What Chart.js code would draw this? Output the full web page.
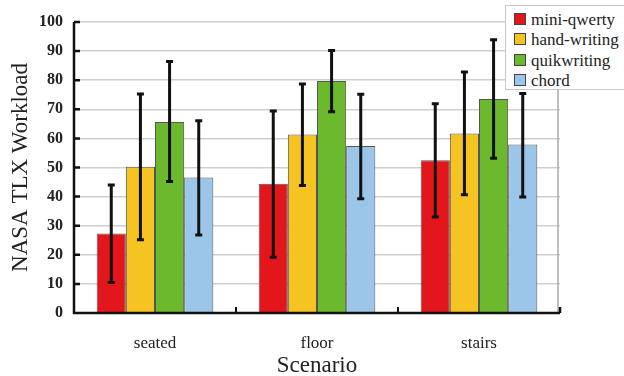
<!DOCTYPE html>
<html>
<head>
<meta charset="utf-8">
<script src="https://cdn.jsdelivr.net/npm/chart.js@4/dist/chart.umd.min.js"></script>
<style>
  html, body { margin: 0; padding: 0; background: #fff; }
  #wrap { position: relative; width: 624px; height: 376px; }
  #legend {
    position: absolute; left: 505px; top: 5px; width: 125px; height: 85px;
    border: 1px solid #c8c8c8; background: #fff; box-sizing: border-box;
    font-family: "Liberation Serif", "Times New Roman", serif; font-size: 17px; color: #222;
    padding: 4px 0 0 8px; line-height: 20.3px;
  }
  #legend .sw { display: inline-block; width: 10px; height: 10px; border: 1px solid #444; margin-right: 5px; vertical-align: 0px; }
</style>
</head>
<body>
<div id="wrap">
  <canvas id="chart" width="624" height="376"></canvas>
  <div id="legend"></div>
</div>
<script>
// Data
const scenarios = ['seated', 'floor', 'stairs'];
const methods = ['mini-qwerty', 'hand-writing', 'quikwriting', 'chord'];
const colors = ['#e3161c', '#f5c422', '#6cb92d', '#9cc6e9'];

const miniQwerty = [27.3, 44.4, 52.5];
const handWriting = [50.3, 61.3, 61.7];
const quikwriting = [65.6, 79.7, 73.5];
const chord = [46.6, 57.4, 57.9];

// error bar low / high
const miniQwertyErr = [[10.5, 44.0], [19.2, 69.4], [33.0, 71.9]];
const handWritingErr = [[25.2, 75.3], [43.8, 78.7], [40.6, 82.8]];
const quikwritingErr = [[45.2, 86.4], [69.2, 90.2], [53.2, 93.9]];
const chordErr = [[26.8, 66.1], [39.3, 75.2], [39.9, 75.4]];

const yTicks = [0, 10, 20, 30, 40, 50, 60, 70, 80, 90, 100];

const seriesValues = [miniQwerty, handWriting, quikwriting, chord];
const seriesErrors = [miniQwertyErr, handWritingErr, quikwritingErr, chordErr];

const serif = '"Liberation Serif", "Times New Roman", serif';

// Legend
const legendEl = document.getElementById('legend');
methods.forEach((m, i) => {
    const row = document.createElement('div');
    row.innerHTML = '<span class="sw" style="background:' + colors[i] + '"></span>' + m;
    legendEl.appendChild(row);
});

// Error bars + small decorations
const errorBarPlugin = {
    id: 'errorBars',
    afterDatasetsDraw(chart) {
        const ctx = chart.ctx;
        const y = chart.scales.y;
        const x = chart.scales.x;
        const area = chart.chartArea;
        ctx.save();
        ctx.strokeStyle = '#111';
        ctx.lineWidth = 3;
        chart.data.datasets.forEach((ds, i) => {
            const meta = chart.getDatasetMeta(i);
            meta.data.forEach((bar, j) => {
                const err = seriesErrors[i][j];
                const yl = y.getPixelForValue(err[0]);
                const yh = y.getPixelForValue(err[1]);
                ctx.beginPath();
                ctx.moveTo(bar.x, yl); ctx.lineTo(bar.x, yh);
                ctx.moveTo(bar.x - 3.5, yl); ctx.lineTo(bar.x + 3.5, yl);
                ctx.moveTo(bar.x - 3.5, yh); ctx.lineTo(bar.x + 3.5, yh);
                ctx.stroke();
            });
        });
        // category separator ticks
        ctx.lineWidth = 2;
        for (let k = 1; k < scenarios.length; k++) {
            const px = (x.getPixelForValue(k - 1) + x.getPixelForValue(k)) / 2;
            ctx.beginPath();
            ctx.moveTo(px, area.bottom); ctx.lineTo(px, area.bottom - 6);
            ctx.stroke();
        }
        // right border
        ctx.strokeStyle = '#aaa';
        ctx.lineWidth = 1.5;
        ctx.beginPath();
        ctx.moveTo(area.right - 2, area.top); ctx.lineTo(area.right - 2, area.bottom);
        ctx.stroke();
        // axes
        ctx.strokeStyle = '#111';
        ctx.lineWidth = 2.5;
        ctx.beginPath();
        ctx.moveTo(area.left, area.top); ctx.lineTo(area.left, area.bottom);
        ctx.lineTo(area.right, area.bottom);
        ctx.moveTo(area.right, area.bottom); ctx.lineTo(area.right, area.bottom - 6);
        y.ticks.forEach(t => {
            const py = y.getPixelForValue(t.value);
            ctx.moveTo(area.left, py); ctx.lineTo(area.left + 6, py);
        });
        ctx.stroke();
        ctx.restore();
    }
};

const ctx = document.getElementById('chart').getContext('2d');
new Chart(ctx, {
    type: 'bar',
    data: {
        labels: scenarios,
        datasets: methods.map((m, i) => ({
            label: m,
            data: seriesValues[i],
            backgroundColor: colors[i],
            borderColor: '#555',
            borderWidth: 1,
            categoryPercentage: 0.72,
            barPercentage: 1
        }))
    },
    options: {
        responsive: false,
        animation: false,
        layout: { padding: { top: 22, right: 64, left: 0, bottom: 0 } },
        plugins: { legend: { display: false }, tooltip: { enabled: false } },
        scales: {
            x: {
                grid: { display: false, drawTicks: false },
                border: { display: false },
                ticks: {
                    padding: 20,
                    color: '#222',
                    font: { family: serif, size: 17 }
                },
                title: {
                    display: true,
                    text: 'Scenario',
                    color: '#222',
                    padding: { top: 0, bottom: -4 },
                    font: { family: serif, size: 23 }
                },
                afterFit(scale) { scale.height = 63; }
            },
            y: {
                min: 0,
                max: 100,
                afterBuildTicks(scale) { scale.ticks = yTicks.map(v => ({ value: v })); },
                grid: { color: '#cfcfcf', lineWidth: 1.5, drawTicks: false },
                border: { display: false },
                ticks: {
                    padding: 11,
                    color: '#222',
                    font: { family: serif, size: 16, weight: 'bold' }
                },
                title: {
                    display: true,
                    text: 'NASA TLX Workload',
                    color: '#222',
                    padding: { top: 7, bottom: 0 },
                    font: { family: serif, size: 23 }
                },
                afterFit(scale) { scale.width = 74; }
            }
        }
    },
    plugins: [errorBarPlugin]
});
</script>
</body>
</html>
